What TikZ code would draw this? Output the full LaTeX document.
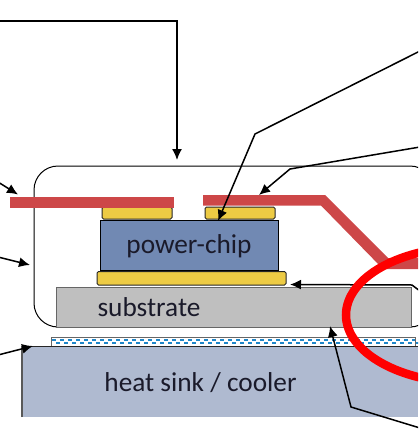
\documentclass[tikz,border=0pt]{standalone}
\usepackage{fontspec}
\setmainfont{Carlito}
\usetikzlibrary{arrows.meta}
\definecolor{goldc}{HTML}{EDCB44}
\definecolor{chipc}{HTML}{7189B3}
\definecolor{subc}{HTML}{BFBFBF}
\definecolor{sinkc}{HTML}{AFBAD0}
\definecolor{stripc}{HTML}{CD4748}
\definecolor{dotc}{HTML}{1F86C8}
\definecolor{txt}{HTML}{1A1A2A}
\tikzset{
 x=1pt,y=-1pt,
 lead/.style={draw=black,line width=1.5pt,-{Latex[length=11pt,width=10pt]}},
 lbl/.style={font=\fontsize{27.3}{30}\selectfont,text=txt,inner sep=0pt,anchor=center},
 pad/.style={draw=black!85,line width=1pt,fill=goldc,rounded corners=1.5pt},
 strip/.style={fill=stripc,draw=none},
}
\begin{document}
\begin{tikzpicture}
\useasboundingbox (0,0) rectangle (418,434);
\begin{scope}
\clip (0,0) rectangle (418,434);
% package frame
\draw[black,line width=1pt,rounded corners=24pt] (34,166) rectangle (434,327);
% heat sink
\fill[sinkc] (22,346) rectangle (418,417);
\draw[black!65,line width=1.2pt] (22,417) -- (22,346);
% thermal interface
\fill[white] (51,337) rectangle (415,346);
\foreach \i in {0,...,45}{
  \fill[dotc] ({52+8*\i},339) rectangle +(4,2);
  \fill[dotc] ({56+8*\i},342) rectangle +(4,2);
}
\draw[black!60,line width=1pt] (51,346) -- (51,337) -- (415,337) -- (415,346);
\draw[black!85,line width=.8pt] (22,346) -- (418,346);
% substrate
\node[draw=black!60,line width=1.1pt,fill=subc,minimum width=355pt,minimum height=40pt,inner sep=0pt,anchor=north west] (sub) at (56,287) {};
\node[lbl] (subl) at (149,307.5) {substrate};
\node[lbl] (sinkl) at (200.5,383) {heat sink / cooler};
% solder
\draw[pad] (97,271.5) rectangle (286,285);
\draw[pad] (102,207) rectangle (172,219);
\draw[pad] (205,207) rectangle (275,219);
% chip
\node[draw=black,line width=1.1pt,fill=chipc,minimum width=178pt,minimum height=50pt,inner sep=0pt,anchor=north west] (chip) at (100,220) {};
\node[lbl] (chipl) at (189,246) {power-chip};
% strips
\fill[strip] (9.5,196.5) rectangle (174,207.5);
\fill[strip] (203,195) -- (325,195) -- (388,258) -- (418,258) -- (418,269) -- (383,269) -- (321,205.5) -- (203,205.5) -- cycle;
% leaders
\coordinate (a1) at (-2,21); \coordinate (a1b) at (177,21); \coordinate (a1e) at (177,160);
\draw[lead] (a1) -- (a1b) -- (a1e);
\coordinate (a2) at (420,51); \coordinate (a2b) at (255,134); \coordinate (a2e) at (218,221);
\draw[lead] (a2) -- (a2b) -- (a2e);
\coordinate (a3) at (420,147); \coordinate (a3b) at (290,169); \coordinate (a3e) at (259,195);
\draw[lead] (a3) -- (a3b) -- (a3e);
\coordinate (a4) at (-2,182); \coordinate (a4e) at (18,194.5);
\draw[lead] (a4) -- (a4e);
\coordinate (a5) at (-2,257); \coordinate (a5e) at (30,265);
\draw[lead] (a5) -- (a5e);
\coordinate (a6) at (-2,355); \coordinate (a6e) at (33,346);
\draw[lead] (a6) -- (a6e);
\coordinate (a7) at (420,428); \coordinate (a7b) at (351,407); \coordinate (a7e) at (330,326);
\draw[lead] (a7) -- (a7b) -- (a7e);
\coordinate (a8) at (420,291); \coordinate (a8b) at (412,285); \coordinate (a8e) at (290,284.5);
\draw[lead] (a8) -- (a8b) -- (a8e);
% highlight
\draw[red,line width=8.5pt] (468,315) ellipse [x radius=122pt,y radius=68pt];
\end{scope}
\end{tikzpicture}
\end{document}
